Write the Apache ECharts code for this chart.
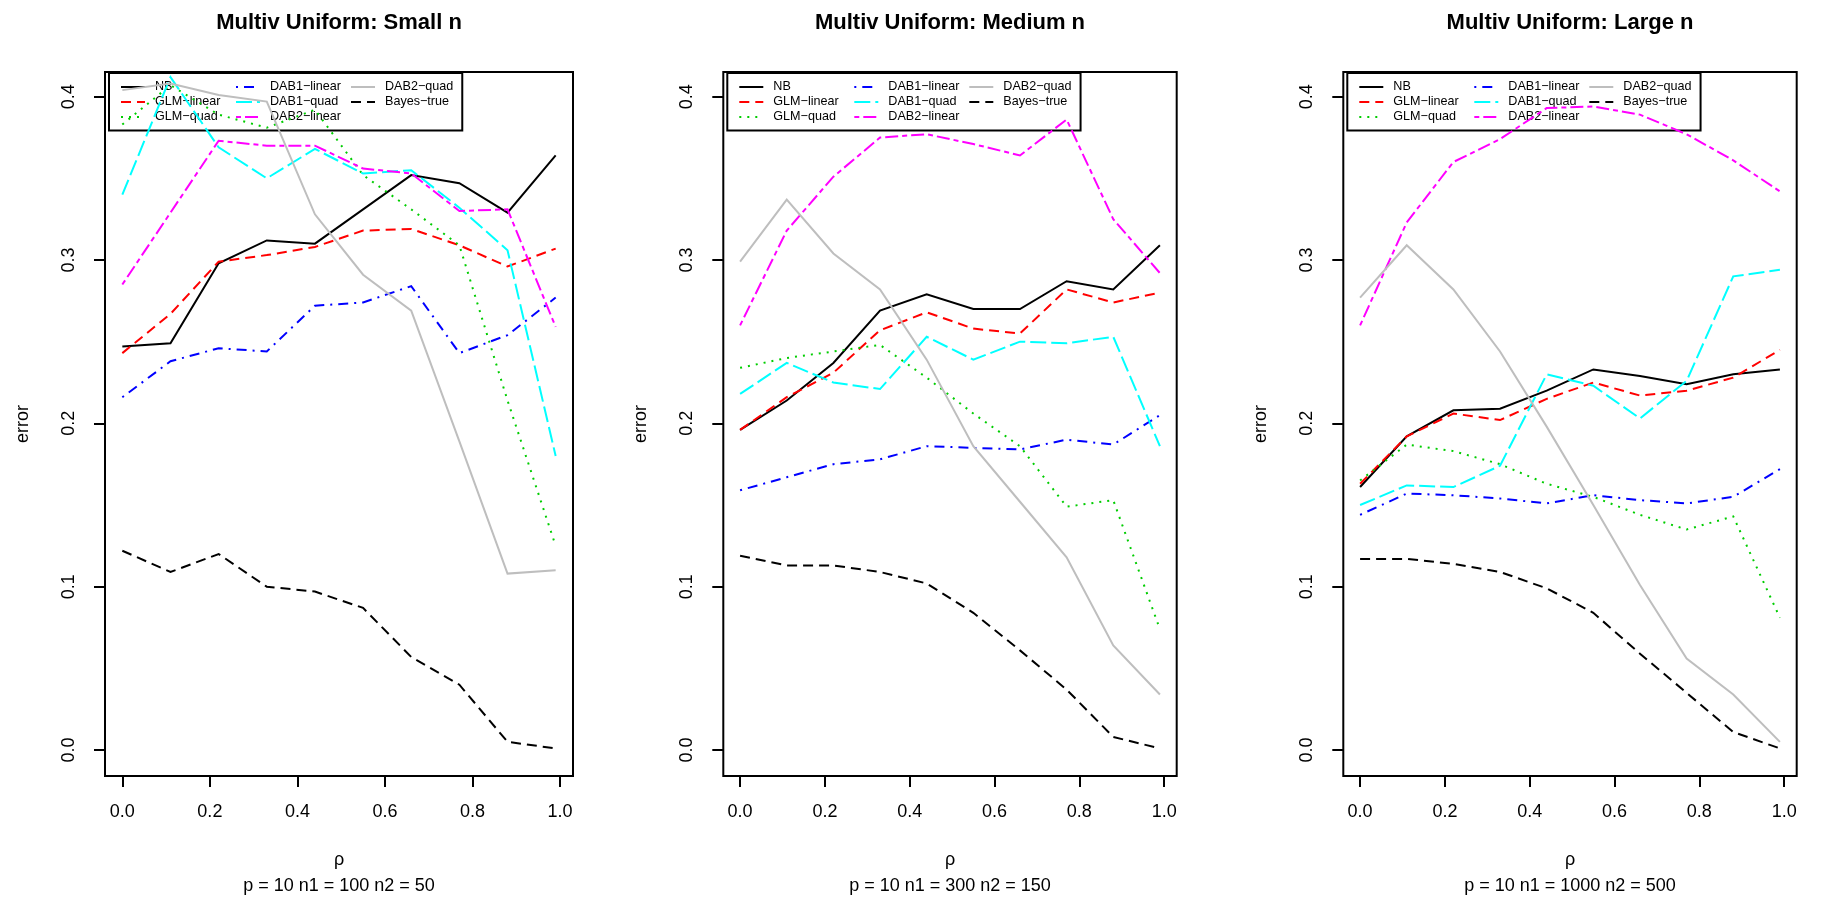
<!DOCTYPE html>
<html><head><meta charset="utf-8">
<script src="https://cdn.jsdelivr.net/npm/echarts@6/dist/echarts.min.js"></script>
<style>html,body{margin:0;padding:0;background:#fff}#c{width:1832px;height:903px}</style>
</head><body><div id="c"></div>
<script>
// ---------- data ----------
const rho = [0, 0.11, 0.22, 0.33, 0.44, 0.55, 0.66, 0.77, 0.88, 0.99];
const xTicks = [0, 0.2, 0.4, 0.6, 0.8, 1.0];
const yTicks = [0, 0.1, 0.2, 0.3, 0.4];
const seriesNames = ['NB', 'GLM\u2212linear', 'GLM\u2212quad', 'DAB1\u2212linear', 'DAB1\u2212quad', 'DAB2\u2212linear', 'DAB2\u2212quad', 'Bayes\u2212true'];
const panelTitles = ['Multiv Uniform: Small n', 'Multiv Uniform: Medium n', 'Multiv Uniform: Large n'];
const panelSubtitles = ['p = 10 n1 = 100 n2 = 50', 'p = 10 n1 = 300 n2 = 150', 'p = 10 n1 = 1000 n2 = 500'];
const xLabel = '\u03c1';
const yLabel = 'error';

// Small n
const smallNB        = [0.247, 0.249, 0.298, 0.312, 0.310, 0.331, 0.352, 0.347, 0.329, 0.364];
const smallGLMlinear = [0.243, 0.267, 0.299, 0.303, 0.308, 0.318, 0.319, 0.309, 0.296, 0.307];
const smallGLMquad   = [0.383, 0.407, 0.389, 0.381, 0.392, 0.352, 0.331, 0.309, 0.214, 0.125];
const smallDAB1lin   = [0.216, 0.238, 0.246, 0.244, 0.272, 0.274, 0.284, 0.243, 0.254, 0.277];
const smallDAB1quad  = [0.340, 0.412, 0.369, 0.350, 0.368, 0.353, 0.355, 0.332, 0.306, 0.180];
const smallDAB2lin   = [0.285, 0.329, 0.373, 0.370, 0.370, 0.356, 0.353, 0.330, 0.331, 0.259];
const smallDAB2quad  = [0.404, 0.408, 0.401, 0.397, 0.328, 0.291, 0.269, 0.189, 0.108, 0.110];
const smallBayes     = [0.122, 0.109, 0.120, 0.100, 0.097, 0.087, 0.057, 0.040, 0.005, 0.001];

// Medium n
const medNB        = [0.196, 0.214, 0.237, 0.269, 0.279, 0.270, 0.270, 0.287, 0.282, 0.309];
const medGLMlinear = [0.196, 0.216, 0.231, 0.257, 0.268, 0.258, 0.255, 0.282, 0.274, 0.280];
const medGLMquad   = [0.234, 0.240, 0.244, 0.248, 0.228, 0.206, 0.186, 0.149, 0.153, 0.074];
const medDAB1lin   = [0.159, 0.167, 0.175, 0.178, 0.186, 0.185, 0.184, 0.190, 0.187, 0.205];
const medDAB1quad  = [0.218, 0.237, 0.225, 0.221, 0.253, 0.239, 0.250, 0.249, 0.253, 0.186];
const medDAB2lin   = [0.260, 0.318, 0.351, 0.375, 0.377, 0.371, 0.364, 0.386, 0.325, 0.292];
const medDAB2quad  = [0.299, 0.337, 0.304, 0.282, 0.239, 0.186, 0.152, 0.118, 0.064, 0.034];
const medBayes     = [0.119, 0.113, 0.113, 0.109, 0.102, 0.084, 0.061, 0.037, 0.008, 0.001];

// Large n
const largeNB        = [0.161, 0.192, 0.208, 0.209, 0.220, 0.233, 0.229, 0.224, 0.230, 0.233];
const largeGLMlinear = [0.163, 0.192, 0.206, 0.202, 0.215, 0.225, 0.217, 0.220, 0.228, 0.245];
const largeGLMquad   = [0.165, 0.187, 0.183, 0.175, 0.163, 0.155, 0.144, 0.135, 0.143, 0.081];
const largeDAB1lin   = [0.144, 0.157, 0.156, 0.154, 0.151, 0.156, 0.153, 0.151, 0.155, 0.172];
const largeDAB1quad  = [0.150, 0.162, 0.161, 0.174, 0.230, 0.223, 0.203, 0.226, 0.290, 0.294];
const largeDAB2lin   = [0.260, 0.323, 0.360, 0.374, 0.393, 0.394, 0.389, 0.377, 0.361, 0.342];
const largeDAB2quad  = [0.277, 0.309, 0.282, 0.244, 0.198, 0.150, 0.101, 0.056, 0.034, 0.005];
const largeBayes     = [0.117, 0.117, 0.114, 0.109, 0.099, 0.084, 0.059, 0.035, 0.011, 0.001];

const panelData = [
  [smallNB, smallGLMlinear, smallGLMquad, smallDAB1lin, smallDAB1quad, smallDAB2lin, smallDAB2quad, smallBayes],
  [medNB, medGLMlinear, medGLMquad, medDAB1lin, medDAB1quad, medDAB2lin, medDAB2quad, medBayes],
  [largeNB, largeGLMlinear, largeGLMquad, largeDAB1lin, largeDAB1quad, largeDAB2lin, largeDAB2quad, largeBayes]
];

// ---------- styles ----------
const colors = ['#000000', '#FF0000', '#00CD00', '#0000FF', '#00FFFF', '#FF00FF', '#BEBEBE', '#000000'];
const dashes = ['solid', [10, 6], [2, 6], [2, 6, 10, 6], [16, 5], [5, 4, 13, 4], 'solid', [10, 6]];
const FONT = 'Liberation Sans, Arial, Helvetica, sans-serif';
const grids = [
  { left: 105, top: 72, width: 468, height: 704 },
  { left: 723.3, top: 72, width: 453.4, height: 704 },
  { left: 1343.3, top: 72, width: 453.4, height: 704 }
];
const X_MIN = -0.0396, X_MAX = 1.0296, Y_MIN = -0.0159, Y_MAX = 0.4151;

const option = {
  animation: false,
  backgroundColor: '#ffffff',
  textStyle: { fontFamily: FONT, color: '#000' },
  title: [],
  legend: [],
  grid: [],
  xAxis: [],
  yAxis: [],
  series: []
};

grids.forEach((g, p) => {
  option.grid.push({ left: g.left, top: g.top, width: g.width, height: g.height,
    show: true, borderColor: '#000', borderWidth: 2, backgroundColor: 'transparent', containLabel: false });
  option.xAxis.push({
    type: 'value', gridIndex: p, min: X_MIN, max: X_MAX, position: 'bottom',
    axisLine: { show: false, onZero: false },
    splitLine: { show: false },
    axisTick: { show: true, inside: false, length: 11, customValues: xTicks, lineStyle: { color: '#000', width: 2 } },
    axisLabel: { show: true, customValues: xTicks, margin: 27, fontSize: 18, fontFamily: FONT, color: '#000',
      formatter: v => v.toFixed(1) },
    name: xLabel, nameLocation: 'middle', nameGap: 75.5,
    nameTextStyle: { fontSize: 18, fontFamily: FONT, color: '#000' }
  });
  option.yAxis.push({
    type: 'value', gridIndex: p, min: Y_MIN, max: Y_MAX, position: 'left',
    axisLine: { show: false, onZero: false },
    splitLine: { show: false },
    axisTick: { show: true, inside: false, length: 11, customValues: yTicks, lineStyle: { color: '#000', width: 2 } },
    axisLabel: { show: true, customValues: yTicks, margin: 27, rotate: 90, fontSize: 18, fontFamily: FONT, color: '#000',
      formatter: v => v.toFixed(1) },
    name: yLabel, nameLocation: 'middle', nameGap: 73, nameRotate: 90,
    nameTextStyle: { fontSize: 18, fontFamily: FONT, color: '#000' }
  });
  const cx = g.left + g.width / 2;
  option.title.push({ text: panelTitles[p], left: cx, top: 12, textAlign: 'center', padding: 0,
    textStyle: { fontSize: 22, fontWeight: 'bold', fontFamily: FONT, color: '#000' } });
  option.title.push({ text: panelSubtitles[p], left: cx, top: 877.5, textAlign: 'center', padding: 0,
    textStyle: { fontSize: 18, fontWeight: 'normal', fontFamily: FONT, color: '#000' } });

  option.legend.push({
    orient: 'vertical', left: g.left + 4, top: g.top + 1, height: 46,
    itemWidth: 24, itemHeight: 10, itemGap: 0,
    padding: [6.5, 9, 6, 11],
    borderColor: '#000', borderWidth: 2, backgroundColor: 'transparent',
    selectedMode: false,
    itemStyle: { opacity: 0, borderWidth: 0 },
    textStyle: { fontSize: 12.6, fontFamily: FONT, color: '#000', lineHeight: 15, padding: [0, 0, 0, 5] },
    data: seriesNames.map((n, i) => (i < 6 ? { name: n, textStyle: { width: 80 } } : { name: n }))
  });

  panelData[p].forEach((vals, i) => {
    option.series.push({
      name: seriesNames[i], type: 'line', xAxisIndex: p, yAxisIndex: p,
      symbol: 'none', silent: true,
      data: rho.map((x, k) => [x, vals[k]]),
      lineStyle: { color: colors[i], width: 2, type: dashes[i], cap: 'butt', join: 'miter' },
      itemStyle: { color: colors[i] },
      z: 2 + i
    });
  });
});

const chart = echarts.init(document.getElementById('c'), null, { renderer: 'canvas', width: 1832, height: 903 });
chart.setOption(option);
</script>
</body></html>
